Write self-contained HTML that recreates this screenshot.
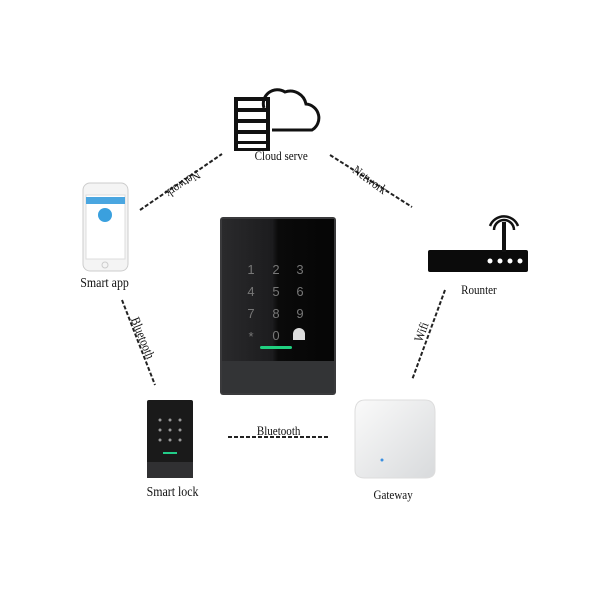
<!DOCTYPE html>
<html><head><style>
body{margin:0;background:#fff;width:600px;height:600px;overflow:hidden;position:relative;font-family:"Liberation Serif",serif;}
.t{position:absolute;font-size:13px;color:#111;transform:scaleX(0.85);white-space:nowrap}
</style></head><body>
<svg width="600" height="600" style="position:absolute;left:0;top:0">
<defs>
<linearGradient id="gl" x1="0" y1="0" x2="1" y2="0"><stop offset="0" stop-color="#2a2a2c"/><stop offset="0.45" stop-color="#1c1c1e"/><stop offset="0.5" stop-color="#0a0a0a"/><stop offset="1" stop-color="#050505"/></linearGradient>
<linearGradient id="gw" x1="0" y1="0" x2="1" y2="1"><stop offset="0" stop-color="#fafafa"/><stop offset="1" stop-color="#d8dadc"/></linearGradient>
</defs>
<g stroke="#222" stroke-width="2" stroke-dasharray="4 2" fill="none">
<line x1="140" y1="210" x2="222" y2="154"/>
<line x1="330" y1="155" x2="412" y2="207"/>
<line x1="122" y1="300" x2="155" y2="385"/>
<line x1="445" y1="290" x2="412" y2="380"/>
<line x1="228" y1="437" x2="330" y2="437"/>
</g>
<!-- server -->
<rect x="234" y="97" width="36" height="54" fill="#111"/>
<g fill="#fff">
<rect x="238" y="101" width="28" height="7"/><rect x="238" y="112" width="28" height="7"/><rect x="238" y="123" width="28" height="7"/><rect x="238" y="134" width="28" height="7"/><rect x="238" y="144" width="28" height="4"/>
</g>
<path d="M272 130 H312 A14 14 0 0 0 306 104 A16 16 0 0 0 285 92 A14 14 0 0 0 264 108" fill="none" stroke="#111" stroke-width="3"/>
<!-- phone -->
<rect x="83" y="183" width="45" height="88" rx="7" fill="#f4f4f4" stroke="#ccc"/>
<rect x="86" y="195" width="39" height="64" fill="#fff" stroke="#ddd"/>
<rect x="86" y="197" width="39" height="7" fill="#4aa6e0"/>
<circle cx="105" cy="215" r="7" fill="#3aa0de"/>
<circle cx="105" cy="265" r="3" fill="none" stroke="#ccc"/>
<!-- router -->
<rect x="428" y="250" width="100" height="22" rx="2" fill="#0b0b0b"/>
<rect x="502" y="222" width="4" height="30" fill="#111"/>
<path d="M494 230 a10 10 0 0 1 20 0 M490 226 a15 15 0 0 1 28 0" stroke="#111" stroke-width="2.5" fill="none"/>
<g fill="#fff"><circle cx="490" cy="261" r="2.5"/><circle cx="500" cy="261" r="2.5"/><circle cx="510" cy="261" r="2.5"/><circle cx="520" cy="261" r="2.5"/></g>
<!-- big device -->
<rect x="220" y="217" width="116" height="178" rx="3" fill="#3a3a3c"/>
<rect x="222" y="219" width="112" height="142" fill="url(#gl)"/>
<rect x="222" y="361" width="112" height="32" fill="#333436"/>
<g fill="#777" font-family="Liberation Sans" font-size="13" text-anchor="middle">
<text x="251" y="274">1</text><text x="276" y="274">2</text><text x="300" y="274">3</text>
<text x="251" y="296">4</text><text x="276" y="296">5</text><text x="300" y="296">6</text>
<text x="251" y="318">7</text><text x="276" y="318">8</text><text x="300" y="318">9</text>
<text x="251" y="341">*</text><text x="276" y="340">0</text></g>
<path d="M293 340 v-6 a6 6 0 0 1 12 0 v6 z" fill="#ddd"/>
<rect x="260" y="346" width="32" height="3" rx="1.5" fill="#20d080"/>
<!-- smart lock -->
<rect x="147" y="400" width="46" height="78" rx="2" fill="#1a1a1a"/>
<rect x="147" y="462" width="46" height="16" fill="#303032"/>
<g fill="#999"><circle cx="160" cy="420" r="1.5"/><circle cx="170" cy="420" r="1.5"/><circle cx="180" cy="420" r="1.5"/><circle cx="160" cy="430" r="1.5"/><circle cx="170" cy="430" r="1.5"/><circle cx="180" cy="430" r="1.5"/><circle cx="160" cy="440" r="1.5"/><circle cx="170" cy="440" r="1.5"/><circle cx="180" cy="440" r="1.5"/></g>
<rect x="163" y="452" width="14" height="2" fill="#2c8"/>
<!-- gateway -->
<path d="M365 400 H425 Q435 400 435 412 V470 Q435 478 425 478 H365 Q355 478 355 470 V412 Q355 400 365 400Z" fill="url(#gw)" stroke="#ddd"/>
<circle cx="382" cy="460" r="1.5" fill="#3a8fe0"/>
</svg>
<div class="t" style="left:250px;top:148px">Cloud serve</div>
<div class="t" style="left:76px;top:276px;font-size:14px">Smart app</div>
<div class="t" style="left:458px;top:282px">Rounter</div>
<div class="t" style="left:142px;top:485px;font-size:14px">Smart lock</div>
<div class="t" style="left:370px;top:487px">Gateway</div>
<div class="t" style="left:253px;top:423px">Bluetooth</div>
<div class="t" style="left:160px;top:176px;transform:rotate(146deg) scaleX(0.85)">Network</div>
<div class="t" style="left:347px;top:172px;transform:rotate(36deg) scaleX(0.85)">Network</div>
<div class="t" style="left:117px;top:330px;transform:rotate(68deg) scaleX(0.85)">Bluetooth</div>
<div class="t" style="left:410px;top:324px;transform:rotate(-70deg) scaleX(0.85)">Wifi</div>
</body></html>
